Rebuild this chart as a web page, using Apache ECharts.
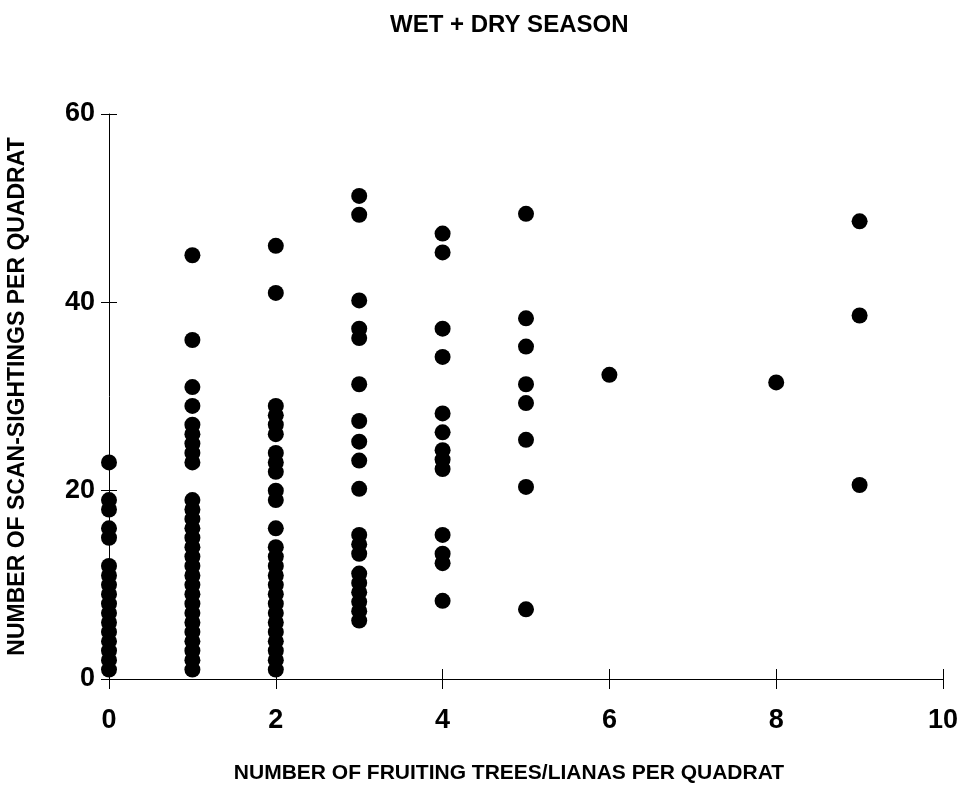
<!DOCTYPE html>
<html>
<head>
<meta charset="utf-8">
<title>Wet + Dry Season</title>
<script src="https://cdn.jsdelivr.net/npm/echarts@6/dist/echarts.min.js"></script>
<style>
	html, body { margin: 0; padding: 0; background: #fff; }
	#main { width: 967px; height: 791px; }
</style>
</head>
<body>
<div id="main"></div>
<script>
// number of fruiting trees/lianas per quadrat -> scan-sightings
var trees0 = [23, 19, 18, 16, 15, 12, 11, 10, 9, 8, 7, 6, 5, 4, 3, 2, 1];
var trees1 = [45, 36, 31, 29, 27, 26, 25, 24, 23, 19, 18, 17, 16, 15, 14, 13, 12, 11, 10, 9, 8, 7, 6, 5, 4, 3, 2, 1];
var trees2 = [46, 41, 29, 28, 27, 26, 24, 23, 22, 20, 19, 16, 14, 13, 12, 11, 10, 9, 8, 7, 6, 5, 4, 3, 2, 1];
var trees3 = [51.3, 49.3, 40.2, 37.2, 36.2, 31.3, 27.4, 25.2, 23.2, 20.2, 15.3, 14.3, 13.3, 11.2, 10.2, 9.2, 8.2, 7.2, 6.2];
var trees4 = [47.3, 45.3, 37.2, 34.2, 28.2, 26.2, 24.3, 23.3, 22.3, 15.3, 13.3, 12.3, 8.3];
var trees5 = [49.4, 38.3, 35.3, 31.3, 29.3, 25.4, 20.4, 7.4];
var trees6 = [32.3];
var trees8 = [31.5];
var trees9 = [48.6, 38.6, 20.6];

var titleText = 'WET + DRY SEASON';
var xName = 'NUMBER OF FRUITING TREES/LIANAS PER QUADRAT';
var yName = 'NUMBER OF SCAN-SIGHTINGS PER QUADRAT';

var columns = [[0, trees0], [1, trees1], [2, trees2], [3, trees3], [4, trees4],
	[5, trees5], [6, trees6], [8, trees8], [9, trees9]];
var points = [];
columns.forEach(function (c) {
	c[1].forEach(function (v) { points.push([c[0], v]); });
});

var myChart = echarts.init(document.getElementById('main'));
var labelFont = {
	color: '#000',
	fontFamily: 'Liberation Sans, Arial, sans-serif',
	fontWeight: 'bold',
	fontSize: 27
};
var option = {
	backgroundColor: '#fff',
	animation: false,
	title: {
		text: titleText,
		left: 385,
		top: 8,
		textStyle: {
			color: '#000',
			fontFamily: 'Liberation Sans, Arial, sans-serif',
			fontWeight: 'bold',
			fontSize: 24
		}
	},
	grid: {
		left: 109,
		right: 24,
		top: 114,
		bottom: 112,
		outerBoundsMode: 'none'
	},
	xAxis: [{
		type: 'value',
		min: 0,
		max: 10,
		interval: 2,
		name: xName,
		nameLocation: 'middle',
		nameGap: 84,
		nameTextStyle: {
			color: '#000',
			fontFamily: 'Liberation Sans, Arial, sans-serif',
			fontWeight: 'bold',
			fontSize: 21,
			padding: [0, 34, 0, 0]
		},
		axisLine: { show: true, onZero: false, lineStyle: { color: '#000', width: 1 } },
		axisTick: { show: true, length: 10, lineStyle: { color: '#000' } },
		axisLabel: Object.assign({ margin: 28 }, labelFont),
		splitLine: { show: false }
	}, {
		// inside half of the crossing ticks
		type: 'value',
		position: 'bottom',
		min: 0,
		max: 10,
		interval: 2,
		axisLine: { show: false },
		axisTick: { show: true, inside: true, length: 10, lineStyle: { color: '#000' } },
		axisLabel: { show: false },
		splitLine: { show: false }
	}],
	yAxis: [{
		type: 'value',
		min: 0,
		max: 60,
		interval: 20,
		name: yName,
		nameLocation: 'middle',
		nameGap: 80,
		nameTextStyle: {
			color: '#000',
			fontFamily: 'Liberation Sans, Arial, sans-serif',
			fontWeight: 'bold',
			fontSize: 23
		},
		axisLine: { show: true, onZero: false, lineStyle: { color: '#000', width: 1 } },
		axisTick: { show: true, length: 8, lineStyle: { color: '#000' } },
		axisLabel: Object.assign({ margin: 14 }, labelFont),
		splitLine: { show: false }
	}, {
		type: 'value',
		position: 'left',
		min: 0,
		max: 60,
		interval: 20,
		axisLine: { show: false },
		axisTick: { show: true, inside: true, length: 8, lineStyle: { color: '#000' } },
		axisLabel: { show: false },
		splitLine: { show: false }
	}],
	series: [{
		type: 'scatter',
		symbol: 'circle',
		symbolSize: 16,
		itemStyle: { color: '#000', opacity: 1 },
		data: points
	}]
};
myChart.setOption(option);
</script>
</body>
</html>
